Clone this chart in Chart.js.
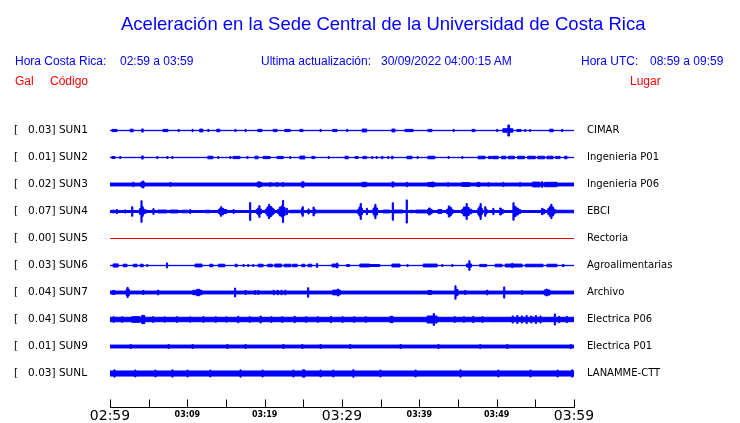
<!DOCTYPE html>
<html>
<head>
<meta charset="utf-8">
<title>Aceleración Sede Central UCR</title>
<script src="https://cdn.jsdelivr.net/npm/chart.js@4.4.0/dist/chart.umd.min.js"></script>
<style>
body { margin: 0; background: #fff; }
#wrap { position: relative; width: 740px; height: 423px; }
#wrap canvas { position: absolute; left: 0; top: 0; }
.t { position: absolute; font-family: "Liberation Sans", Arial, sans-serif; font-size: 12px; line-height: 14px; color: #0000ff; white-space: pre; }
.red { color: #ff0000; }
#title { font-size: 18.5px; line-height: 20px; }
</style>
</head>
<body>
<div id="wrap">
  <canvas id="chart" width="740" height="423"></canvas>
  <div class="t" id="title" style="left:121px;top:14px">Aceleración en la Sede Central de la Universidad de Costa Rica</div>
  <div class="t" style="left:15px;top:54px">Hora Costa Rica:</div>
  <div class="t" style="left:120px;top:54px">02:59 a 03:59</div>
  <div class="t" style="left:261px;top:54px">Ultima actualización:</div>
  <div class="t" style="left:381px;top:54px">30/09/2022 04:00:15 AM</div>
  <div class="t" style="left:581px;top:54px">Hora UTC:</div>
  <div class="t" style="left:650px;top:54px">08:59 a 09:59</div>
  <div class="t red" style="left:15px;top:74px">Gal</div>
  <div class="t red" style="left:50px;top:74px">Código</div>
  <div class="t red" style="left:630px;top:74px">Lugar</div>
</div>
<script>
// stations, top to bottom
var codes = ['SUN1', 'SUN2', 'SUN3', 'SUN4', 'SUN5', 'SUN6', 'SUN7', 'SUN8', 'SUN9', 'SUNL'];
var places = ['CIMAR', 'Ingenieria P01', 'Ingenieria P06', 'EBCI', 'Rectoria', 'Agroalimentarias',
              'Archivo', 'Electrica P06', 'Electrica P01', 'LANAMME-CTT'];
var peaks = [0.03, 0.01, 0.02, 0.07, 0.00, 0.03, 0.04, 0.04, 0.01, 0.03];   // Gal

// background noise half-amplitude of each trace (Gal)
var noise = [0.001, 0.001, 0.009, 0.006, 0, 0.001, 0.009, 0.014, 0.009, 0.016];

// bursts: [start min, end min, half amplitude Gal]
var sun1 = [[0.26,0.9,0.007],[2.6,3.0,0.008],[4.1,4.3,0.01],[6.85,7.5,0.007],[8.8,8.95,0.007],[10.6,10.75,0.007],
  [11.6,12.0,0.009],[12.65,12.8,0.007],[13.8,14.2,0.008],[16.15,16.3,0.007],[17.45,17.6,0.007],[19.1,19.65,0.007],
  [21.1,21.6,0.007],[22.6,23.3,0.007],[24.55,24.95,0.007],[27.15,27.3,0.007],[28.8,29.35,0.007],[30.6,30.75,0.007],
  [32.6,33.2,0.009],[36.45,36.85,0.009],[38.15,39.2,0.007],[41.1,41.65,0.007],[44.35,44.5,0.007],[46.8,47.2,0.007],
  [50.0,50.15,0.007],[50.8,51.45,0.011],[51.45,51.65,0.035],[51.65,52.1,0.011],[52.6,53.15,0.006],[53.6,53.75,0.006],
  [54.25,54.4,0.006],[56.85,57.3,0.008],[58.4,58.55,0.007]];
var sun2 = [[0.25,0.65,0.006],[1.25,1.4,0.006],[4.1,4.3,0.01],[6.05,6.2,0.006],[7.35,7.5,0.006],[8.0,8.15,0.006],
  [12.65,13.3,0.008],[13.95,14.1,0.006],[15.5,15.65,0.006],[15.9,16.8,0.007],[17.7,17.85,0.006],[18.75,19.15,0.008],
  [19.8,20.7,0.007],[21.6,22.4,0.007],[23.25,23.4,0.006],[24.55,25.2,0.009],[26.1,26.5,0.007],[28.2,28.35,0.006],
  [30.4,30.8,0.008],[31.7,32.1,0.006],[32.7,33.2,0.007],[33.85,34.0,0.006],[34.4,34.55,0.006],[35.1,35.3,0.007],
  [35.9,36.05,0.006],[36.4,36.6,0.008],[38.4,39.05,0.008],[39.7,39.85,0.006],[41.1,42.0,0.008],[43.7,43.85,0.006],
  [45.5,45.65,0.006],[47.6,48.5,0.008],[48.9,49.4,0.007],[49.5,50.2,0.008],[50.6,51.2,0.008],[51.5,52.3,0.008],
  [52.7,53.6,0.008],[54.0,55.0,0.008],[55.3,56.2,0.008],[56.5,57.3,0.008],[57.6,58.2,0.007],[58.8,59.1,0.008]];
var sun3 = [[2.95,3.1,0.014],[4.0,4.2,0.016],[4.2,4.35,0.022],[4.35,4.45,0.016],[7.75,7.9,0.013],
  [19.0,19.2,0.013],[19.2,19.35,0.018],[19.35,19.65,0.013],[20.65,20.8,0.013],[21.55,21.7,0.013],[22.3,22.45,0.013],
  [24.8,25.1,0.017],[32.6,33.2,0.014],[36.45,36.7,0.016],[38.35,38.5,0.014],[41.1,41.6,0.013],[41.6,41.75,0.016],
  [41.75,42.0,0.013],[43.65,43.8,0.012],[45.5,46.5,0.012],[47.45,47.85,0.013],[48.85,49.0,0.012],[50.8,50.95,0.013],
  [52.95,53.1,0.013],[54.65,55.6,0.015],[55.8,55.95,0.018],[56.2,57.8,0.014]];
var sun4 = [[0.2,0.65,0.008],[0.8,1.0,0.012],[1.9,2.05,0.01],[2.8,2.95,0.03],
  [3.8,4.0,0.018],[4.0,4.15,0.068],[4.15,4.3,0.03],[4.3,4.45,0.015],[4.5,4.75,0.01],
  [5.55,5.7,0.018],[6.2,7.35,0.009],[7.75,8.8,0.009],[9.25,10.1,0.008],[10.3,10.45,0.012],[12.3,12.95,0.008],
  [14.0,14.2,0.013],[14.2,14.3,0.022],[14.3,14.45,0.03],[14.45,14.7,0.02],[14.7,15.1,0.012],
  [15.9,16.05,0.012],[18.05,18.2,0.056],
  [18.9,19.1,0.012],[19.1,19.25,0.022],[19.25,19.4,0.037],[19.4,19.6,0.015],
  [20.1,20.3,0.015],[20.3,20.5,0.028],[20.5,20.65,0.045],[20.65,20.9,0.032],[20.9,21.1,0.022],[21.1,21.3,0.013],
  [21.7,21.9,0.015],[21.9,22.15,0.028],[22.15,22.3,0.035],[22.3,22.45,0.07],[22.45,22.65,0.025],[22.8,22.95,0.02],
  [23.2,24.6,0.008],[24.75,24.85,0.018],[24.85,25.0,0.03],[25.6,25.75,0.016],[26.25,26.4,0.028],[26.4,26.55,0.015],
  [26.6,32.0,0.008],[32.05,32.2,0.015],[32.2,32.35,0.028],[32.35,32.5,0.05],[32.5,32.65,0.02],[33.15,33.3,0.02],
  [34.0,34.15,0.018],[34.15,34.25,0.03],[34.25,34.4,0.045],[34.4,34.6,0.022],[35.3,36.2,0.009],
  [36.5,36.65,0.055],[36.65,37.9,0.009],[38.3,38.45,0.073],[38.8,39.2,0.008],[39.5,40.9,0.009],
  [41.0,41.2,0.012],[41.2,41.4,0.022],[41.4,41.65,0.014],[42.4,42.9,0.012],
  [43.55,43.75,0.015],[43.75,43.95,0.035],[43.95,44.15,0.025],[44.15,44.35,0.014],
  [45.5,45.7,0.015],[45.7,46.05,0.028],[46.05,46.2,0.05],[46.2,46.45,0.025],[46.45,46.8,0.014],
  [47.55,47.7,0.018],[47.7,47.85,0.03],[47.85,48.0,0.05],[48.0,48.15,0.02],[48.45,48.6,0.03],[48.6,48.75,0.015],
  [49.5,49.65,0.02],[50.4,50.6,0.022],[50.6,50.85,0.012],
  [52.1,52.25,0.055],[52.25,52.5,0.032],[52.5,52.8,0.022],[52.8,53.1,0.012],
  [55.8,56.0,0.02],[56.0,56.25,0.012],
  [56.6,56.8,0.018],[56.8,57.0,0.03],[57.0,57.15,0.045],[57.15,57.35,0.028],[57.35,57.55,0.015],[57.6,60,0.008]];
var sun5 = [];
var sun6 = [[0.4,1.05,0.01],[1.7,2.2,0.008],[3.0,3.5,0.008],[3.9,4.3,0.008],[4.75,4.9,0.006],[7.3,7.45,0.016],
  [11.0,11.9,0.009],[12.9,13.3,0.008],[14.0,14.85,0.008],[16.2,16.45,0.008],[17.2,17.35,0.006],[17.8,17.95,0.006],
  [18.45,18.6,0.006],[19.15,19.8,0.008],[20.4,21.0,0.008],[21.3,22.2,0.009],[22.5,23.4,0.008],[23.6,24.2,0.008],
  [24.8,25.2,0.008],[25.6,26.1,0.008],[26.7,26.85,0.012],[28.7,29.3,0.009],[29.3,29.45,0.015],[29.45,29.5,0.009],
  [30.6,31.0,0.006],[32.3,33.6,0.009],[33.6,34.9,0.006],[36.45,37.5,0.009],[38.4,38.55,0.007],[40.5,42.3,0.009],
  [42.9,43.05,0.006],[44.2,44.35,0.007],[46.1,46.4,0.01],[46.4,46.55,0.03],[46.55,46.75,0.01],[47.8,48.7,0.007],
  [49.8,50.7,0.008],[51.1,51.95,0.009],[51.95,52.1,0.014],[52.1,53.3,0.009],[53.7,56.0,0.008],[56.5,57.8,0.008],
  [58.5,58.7,0.007]];
var sun7 = [[0.3,0.65,0.012],[2.1,2.2,0.02],[2.2,2.35,0.032],[2.35,2.5,0.02],[4.25,4.4,0.013],[6.15,6.3,0.015],
  [10.7,11.2,0.014],[11.2,11.6,0.02],[11.6,11.9,0.014],[16.1,16.25,0.028],[17.45,17.6,0.013],[18.7,18.85,0.012],
  [19.1,19.25,0.012],[21.1,21.25,0.014],[21.6,21.75,0.014],[22.1,22.25,0.014],[22.6,22.75,0.014],[25.55,25.7,0.03],
  [28.8,29.4,0.015],[29.4,29.55,0.022],[29.55,29.8,0.015],[41.1,41.6,0.012],[44.6,44.75,0.042],[44.75,45.0,0.02],
  [45.85,46.0,0.013],[48.7,48.85,0.015],[50.9,51.05,0.035],[53.2,53.35,0.012],[56.15,56.4,0.016],[56.4,56.55,0.022],
  [56.55,56.9,0.016]];
var sun8 = [[0.4,0.55,0.018],[1.5,1.65,0.018],[2.8,3.9,0.018],[4.1,4.5,0.026],[5.5,5.65,0.018],[7.0,7.15,0.017],
  [8.6,8.75,0.018],[10.3,10.45,0.017],[12.0,12.15,0.018],[13.6,13.75,0.018],[15.0,15.15,0.017],[16.5,16.65,0.02],
  [18.0,18.15,0.018],[19.4,19.55,0.022],[20.8,20.95,0.018],[22.2,22.35,0.018],[23.8,23.95,0.02],[25.3,25.45,0.018],
  [26.8,26.95,0.018],[28.5,28.65,0.02],[30.0,30.15,0.018],[31.5,31.65,0.018],[33.0,33.15,0.018],[36.2,36.6,0.02],
  [41.0,41.8,0.022],[41.8,41.95,0.038],[41.95,42.3,0.022],[44.5,44.65,0.018],[45.7,45.85,0.018],[46.9,47.05,0.02],
  [48.1,48.25,0.018],[52.0,52.15,0.022],[52.6,52.75,0.025],[53.2,53.35,0.022],[53.8,53.95,0.025],[54.4,54.55,0.022],
  [55.0,55.15,0.025],[55.6,55.75,0.022],[57.45,57.6,0.035],[58.0,58.15,0.02],[59.0,59.15,0.02]];
var sun9 = [[2.6,2.75,0.013],[7.5,7.65,0.013],[10.6,10.75,0.013],[15.1,15.25,0.013],[17.45,17.6,0.013],
  [22.35,22.5,0.013],[24.8,24.95,0.013],[27.15,27.3,0.013],[31.0,31.15,0.013],[37.5,37.65,0.013],[42.4,42.55,0.013],
  [47.8,47.95,0.013],[51.3,51.45,0.013],[59.5,59.65,0.013]];
var sunl = [[0.5,0.65,0.023],[3.2,3.35,0.022],[5.8,5.95,0.022],[8.0,8.15,0.023],[9.95,10.1,0.022],[12.9,13.05,0.022],
  [16.8,16.95,0.023],[19.65,19.8,0.022],[23.65,23.8,0.022],[24.9,25.2,0.023],[27.15,27.3,0.022],[28.8,28.95,0.022],
  [31.4,31.55,0.024],[34.9,35.05,0.022],[39.45,39.6,0.022],[45.25,45.4,0.023],[50.15,50.3,0.022],[54.3,54.45,0.022],
  [57.8,57.95,0.022],[59.7,59.85,0.023]];
var bursts = [sun1, sun2, sun3, sun4, sun5, sun6, sun7, sun8, sun9, sunl];

var tickLabels = ['02:59', '03:09', '03:19', '03:29', '03:39', '03:49', '03:59'];

var SLOT = 0.17;            // Gal between trace baselines
var Y_MIN = -0.214, Y_MAX = 1.615;

function center(i) { return (codes.length - 1 - i) * SLOT; }

// piecewise constant envelope: [minute, amplitude] steps
function envelope(base, ev) {
    var pts = [[0, base]];
    ev.forEach(function(b) {
        pts.push([b[0], b[2]]);
        pts.push([b[1], base]);
    });
    pts.push([60, base]);
    return pts;
}

var datasets = [];
codes.forEach(function(code, i) {
    var col = code === 'SUN5' ? '#ee0000' : '#0000ff';
    var env = envelope(noise[i], bursts[i]);
    var c = center(i);
    datasets.push({
        label: code, data: env.map(function(p) { return {x: p[0], y: c + p[1]}; }),
        stepped: true, borderColor: col, borderWidth: 1, pointRadius: 0, fill: false
    });
    datasets.push({
        label: code + '-', data: env.map(function(p) { return {x: p[0], y: c - p[1]}; }),
        stepped: true, borderColor: col, borderWidth: 1, pointRadius: 0,
        fill: '-1', backgroundColor: col
    });
});

// tick marks point up from the time axis
var tickMarks = {
    id: 'tickMarks',
    afterDraw: function(chart) {
        var sx = chart.scales.x, ctx = chart.ctx, y = chart.chartArea.bottom;
        ctx.save();
        ctx.strokeStyle = '#000';
        ctx.lineWidth = 1;
        ctx.beginPath();
        sx.ticks.forEach(function(t) {
            var px = Math.round(sx.getPixelForValue(t.value)) + 0.5;
            ctx.moveTo(px, y);
            ctx.lineTo(px, y - 8);
        });
        ctx.stroke();
        ctx.restore();
    }
};

function stationTicks(s) {
    s.ticks = codes.map(function(c, i) { return {value: center(i)}; });
}

// station axes must not push the plot area in from the bottom
function sideFit(w) {
    return function(s) {
        s.width = w;
        s.paddingTop = 0;
        s.paddingBottom = 0;
    };
}

new Chart(document.getElementById('chart'), {
    type: 'line',
    data: {datasets: datasets},
    options: {
        responsive: false,
        animation: false,
        layout: {padding: {left: 14, top: 117, right: 0, bottom: 0}},
        plugins: {legend: {display: false}, tooltip: {enabled: false}, title: {display: false}},
        scales: {
            x: {
                type: 'linear', min: 0, max: 60,
                grid: {display: false, drawTicks: false},
                border: {display: true, color: '#000', width: 1},
                afterFit: function(s) { s.height = 15.5; },
                ticks: {
                    stepSize: 5, maxTicksLimit: 13, autoSkip: false, maxRotation: 0, padding: 1.5, color: '#000',
                    callback: function(v) { return v % 10 === 0 ? tickLabels[v / 10] : ''; },
                    font: function(c) {
                        if (c.tick && c.tick.value % 30 === 0) {
                            return {family: 'DejaVu Sans', size: 14, lineHeight: 1.1};
                        }
                        return {family: 'DejaVu Sans', size: 8, weight: 'bold', lineHeight: 1.5};
                    }
                }
            },
            y: {
                type: 'linear', position: 'left', min: Y_MIN, max: Y_MAX,
                grid: {display: false, drawTicks: false},
                border: {display: false},
                afterBuildTicks: stationTicks,
                afterFit: sideFit(96),
                ticks: {
                    crossAlign: 'far', color: '#000', font: {family: 'DejaVu Sans', size: 10.5},
                    callback: function(v, i) { return '[   ' + peaks[i].toFixed(2) + '] ' + codes[i]; }
                }
            },
            y2: {
                type: 'linear', position: 'right', min: Y_MIN, max: Y_MAX,
                grid: {display: false, drawTicks: false},
                border: {display: false},
                afterBuildTicks: stationTicks,
                afterFit: sideFit(166),
                ticks: {
                    crossAlign: 'near', padding: 13, color: '#000', font: {family: 'DejaVu Sans', size: 10},
                    callback: function(v, i) { return places[i]; }
                }
            }
        }
    },
    plugins: [tickMarks]
});
</script>
</body>
</html>
